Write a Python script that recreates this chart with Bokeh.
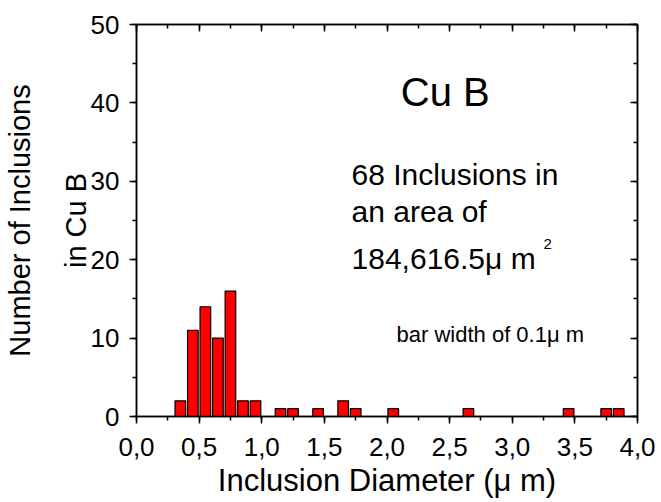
from bokeh.plotting import figure
from bokeh.models import (LinearAxis, SingleIntervalTicker, CustomJSTickFormatter,
                          Label, Range1d, CustomLabelingPolicy)
from bokeh.embed import file_html
from bokeh.resources import INLINE

# Data
diameters = [0.35, 0.45, 0.55, 0.65, 0.75, 0.85, 0.95, 1.15, 1.25, 1.45,
             1.65, 1.75, 2.05, 2.65, 3.45, 3.75, 3.85]
counts = [2, 11, 14, 10, 16, 2, 2, 1, 1, 1, 2, 1, 1, 1, 1, 1, 1]

FONT = "Liberation Sans"

p = figure(frame_width=501, frame_height=392,
           x_range=Range1d(0, 4), y_range=Range1d(0, 50),
           output_backend="svg", toolbar_location=None,
           min_border_left=136, min_border_right=20,
           min_border_top=24, min_border_bottom=80,
           background_fill_color="white", border_fill_color="white")
p.outline_line_color = "black"
p.outline_line_width = 1.5
p.xgrid.visible = False
p.ygrid.visible = False

p.vbar(x=diameters, top=counts, width=0.085, fill_color="#FF0000",
       line_color="black", line_width=1.2)

xt = SingleIntervalTicker(interval=0.5, num_minor_ticks=2)
yt = SingleIntervalTicker(interval=10, num_minor_ticks=2)

xa = p.xaxis[0]
xa.ticker = xt
xa.formatter = CustomJSTickFormatter(code="return tick.toFixed(1).replace('.', ',');")
ya = p.yaxis[0]
ya.ticker = yt

for ax in (xa, ya):
    ax.axis_line_width = 1.5
    ax.major_tick_line_width = 1.5
    ax.minor_tick_line_width = 1.5
    ax.major_tick_in = 0
    ax.major_tick_out = 7
    ax.minor_tick_in = 0
    ax.minor_tick_out = 4
    ax.major_label_text_font = FONT
    ax.major_label_text_font_size = "26px"
    ax.major_label_text_color = "black"
    ax.axis_label_text_font = FONT
    ax.axis_label_text_font_style = "normal"
    ax.axis_label_text_color = "black"

xa.axis_label = "Inclusion Diameter (\u03bc m)"
xa.axis_label_text_font_size = "31px"
xa.major_label_standoff = 14
xa.axis_label_standoff = 4

ya.axis_label = "Number of Inclusions\nin Cu B"
ya.axis_label_text_font_size = "29px"
ya.axis_label_text_line_height = 1.74
ya.major_label_standoff = 10
ya.axis_label_standoff = -4

# Mirror axes (top, right) with inward ticks, no labels
for loc, tk in (("above", xt), ("right", yt)):
    a = LinearAxis(ticker=tk)
    a.major_label_policy = CustomLabelingPolicy(code="return []")
    a.major_label_standoff = 0
    a.axis_line_width = 1.5
    a.major_tick_line_width = 1.5
    a.minor_tick_line_width = 1.5
    a.major_tick_in = 7
    a.major_tick_out = 0
    a.minor_tick_in = 4
    a.minor_tick_out = 0
    p.add_layout(a, loc)

def lab(x, y, t, size):
    p.add_layout(Label(x=x, y=y, text=t, text_font=FONT, text_font_size=size,
                       text_color="black", text_baseline="middle",
                       text_align="left"))

lab(2.11, 41.4, "Cu B", "40px")
lab(1.717, 30.9, "68 Inclusions in", "30px")
lab(1.717, 26.1, "an area of", "30px")
lab(1.717, 20.15, "184,616.5\u03bc m", "30px")
lab(3.25, 22.0, "2", "15px")
lab(2.076, 10.5, "bar width of 0.1\u03bc m", "22px")

open("out.html", "w").write(file_html(p, INLINE))
